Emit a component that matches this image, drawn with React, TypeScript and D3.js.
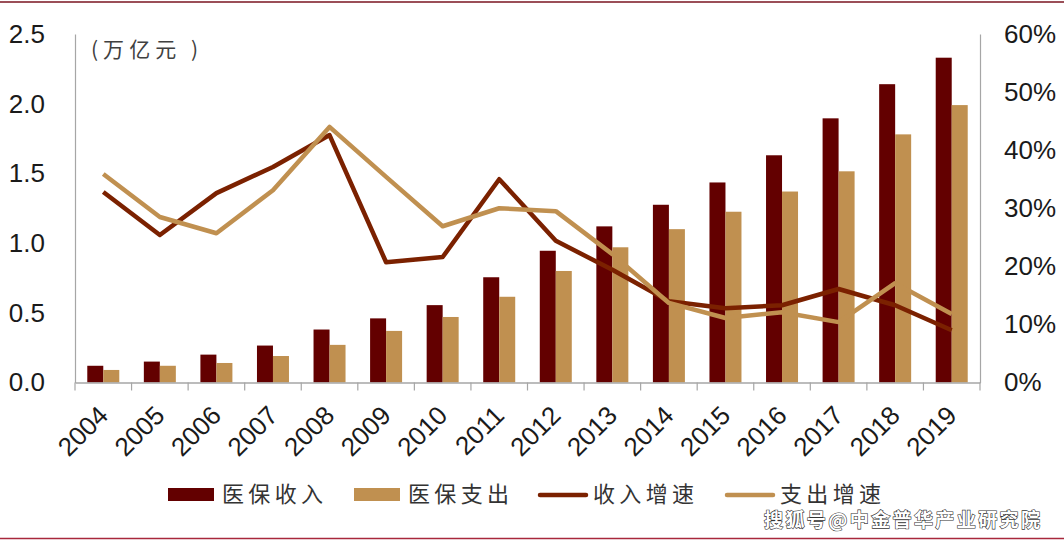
import { useEffect, useRef } from 'react'
import * as d3 from 'd3'

const years = ['2004', '2005', '2006', '2007', '2008', '2009', '2010', '2011', '2012', '2013', '2014', '2015', '2016', '2017', '2018', '2019']
const income = [0.12, 0.15, 0.2, 0.265, 0.38, 0.46, 0.555, 0.755, 0.945, 1.12, 1.275, 1.435, 1.63, 1.895, 2.14, 2.33]
const spending = [0.09, 0.12, 0.14, 0.19, 0.27, 0.37, 0.47, 0.615, 0.8, 0.97, 1.1, 1.225, 1.37, 1.515, 1.78, 1.99]
const incomeGrowth = [32.8, 25.4, 32.6, 37.1, 42.6, 20.7, 21.6, 35, 24.4, 19.4, 14, 12.8, 13.3, 16.1, 13.3, 9]
const spendingGrowth = [35.9, 28.5, 25.7, 33.1, 44, 35.4, 26.9, 30, 29.5, 22.1, 13.7, 11.1, 12.1, 10.4, 17.1, 11.8]
const leftTicks = [0, 0.5, 1, 1.5, 2, 2.5]
const rightTicks = [0, 10, 20, 30, 40, 50, 60]

const DARK = '#630000'
const DARK_LINE = '#7b2100'
const TAN = '#c09050'
const LATIN = '"Liberation Sans", Arial, sans-serif'
const CJK = '"Noto Sans CJK SC", sans-serif'

const App = () => {
	const svgRef = useRef<SVGSVGElement>(null)

	useEffect(() => {
		const svg = d3.select(svgRef.current)
		svg.selectAll('*').remove()

		const left = 75
		const right = 980
		const top = 34
		const bottom = 382.5

		// Scales
		const x = d3.scaleBand().domain(years).range([left, right])
		const inner = d3.scaleBand().domain(['income', 'spending']).range([0, 32]).padding(0)
		const offset = (x.bandwidth() - 32) / 2
		const yLeft = d3.scaleLinear().domain([0, 2.5]).range([bottom, top])
		const yRight = d3.scaleLinear().domain([0, 60]).range([bottom, top])

		// Frame lines at the top and bottom of the page
		svg.append('line').attr('x1', 0).attr('x2', 1064).attr('y1', 2).attr('y2', 2).attr('stroke', '#7a1420').attr('stroke-width', 1.5)
		svg.append('line').attr('x1', 0).attr('x2', 1064).attr('y1', 538.5).attr('y2', 538.5).attr('stroke', '#a8283c').attr('stroke-width', 1.5)

		// Bars
		const bars = [
			{ key: 'income', values: income, color: DARK },
			{ key: 'spending', values: spending, color: TAN },
		]
		bars.forEach((b) => {
			svg
				.append('g')
				.selectAll('rect')
				.data(b.values)
				.enter()
				.append('rect')
				.attr('x', (_, i) => x(years[i]) + offset + inner(b.key))
				.attr('width', inner.bandwidth())
				.attr('y', (d) => yLeft(d))
				.attr('height', (d) => bottom - yLeft(d))
				.attr('fill', b.color)
		})

		// Axes
		const xAxis = svg
			.append('g')
			.attr('transform', `translate(0,${bottom})`)
			.call(d3.axisBottom(x).tickSize(0).tickPadding(0))
		xAxis.select('.domain').attr('stroke', '#a6a6a6').attr('stroke-width', 1.5)
		xAxis
			.selectAll('text')
			.attr('transform', 'translate(0,28) rotate(-45)')
			.attr('y', 0)
			.attr('dy', '0.35em')
			.style('text-anchor', 'end')
			.style('font-family', LATIN)
			.style('font-size', '26px')
			.style('fill', '#1a1a1a')
		svg
			.append('g')
			.selectAll('line')
			.data(d3.range(years.length + 1))
			.enter()
			.append('line')
			.attr('x1', (i) => left + i * x.step())
			.attr('x2', (i) => left + i * x.step())
			.attr('y1', bottom)
			.attr('y2', bottom + 8)
			.attr('stroke', '#a6a6a6')
			.attr('stroke-width', 1.2)

		const axisL = svg
			.append('g')
			.attr('transform', `translate(${left},0)`)
			.call(d3.axisLeft(yLeft).tickValues(leftTicks).tickFormat(d3.format('.1f')).tickSize(0).tickPadding(30))
		const axisR = svg
			.append('g')
			.attr('transform', `translate(${right},0)`)
			.call(d3.axisRight(yRight).tickValues(rightTicks).tickFormat((d) => `${d}%`).tickSize(0).tickPadding(24))
		;[axisL, axisR].forEach((a) => {
			a.select('.domain').attr('stroke', '#a6a6a6').attr('stroke-width', 1.2)
			a.selectAll('text').style('font-family', LATIN).style('font-size', '26px').style('fill', '#1a1a1a')
		})

		// Growth lines
		const line = d3
			.line<number>()
			.x((_, i) => x(years[i]) + x.bandwidth() / 2)
			.y((d) => yRight(d))
		svg.append('path').attr('d', line(incomeGrowth)).attr('fill', 'none').attr('stroke', DARK_LINE).attr('stroke-width', 4.5).attr('stroke-linejoin', 'round')
		svg.append('path').attr('d', line(spendingGrowth)).attr('fill', 'none').attr('stroke', TAN).attr('stroke-width', 4.5).attr('stroke-linejoin', 'round')

		// Unit label
		svg.append('text').attr('x', 91).attr('y', 57).attr('textLength', 107).style('font-family', CJK).style('font-size', '21px').style('fill', '#404040').text('(万亿元 )')

		// Legend
		const legend = svg.append('g').style('font-family', CJK).style('font-size', '22px').style('fill', '#333')
		const swatches = [
			{ x: 168, color: DARK, label: '医保收入' },
			{ x: 354, color: TAN, label: '医保支出' },
		]
		swatches.forEach((s) => {
			legend.append('rect').attr('x', s.x).attr('y', 488).attr('width', 46).attr('height', 13).attr('fill', s.color)
			legend.append('text').attr('x', s.x + 54).attr('y', 502).attr('textLength', 101).text(s.label)
		})
		const lineKeys = [
			{ x: 540, color: DARK_LINE, label: '收入增速' },
			{ x: 727, color: TAN, label: '支出增速' },
		]
		lineKeys.forEach((s) => {
			legend.append('line').attr('x1', s.x).attr('x2', s.x + 46).attr('y1', 495).attr('y2', 495).attr('stroke', s.color).attr('stroke-width', 4.5).attr('stroke-linecap', 'round')
			legend.append('text').attr('x', s.x + 53).attr('y', 502).attr('textLength', 101).text(s.label)
		})

		// Watermark
		svg
			.append('text')
			.attr('x', 764)
			.attr('y', 527)
			.attr('textLength', 276)
			.style('font-family', CJK)
			.style('font-size', '19px')
			.style('font-weight', 700)
			.style('fill', '#fff')
			.style('stroke', '#333')
			.style('stroke-width', 1.2)
			.style('paint-order', 'stroke')
			.text('搜狐号@中金普华产业研究院')
	}, [])

	return <svg ref={svgRef} width={1064} height={543} style={{ position: 'absolute', left: 0, top: 0, background: '#fff' }}></svg>
}

export default App
